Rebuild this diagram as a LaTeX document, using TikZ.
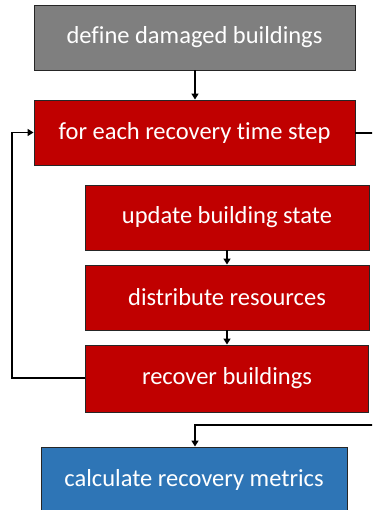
\documentclass[tikz,border=0pt]{standalone}
\usepackage{fontspec}
\setmainfont{Carlito}[Ligatures={NoCommon}]
\usetikzlibrary{arrows.meta}
\definecolor{boxgray}{HTML}{7F7F7F}
\definecolor{boxred}{HTML}{C00000}
\definecolor{boxblue}{HTML}{2E75B6}
\tikzset{
  stepbox/.style={draw=black!85, line width=0.9pt, text=white, inner sep=0pt,
    font=\fontsize{24.5}{29}\selectfont},
  conn/.style={line width=1.6pt, -{Triangle[length=6pt,width=7pt]}},
  plain/.style={line width=1.6pt},
}
\begin{document}
\begin{tikzpicture}[x=1pt,y=-1pt]
\useasboundingbox (0,0) rectangle (372,510);
\clip (0,0) rectangle (372,510);
\node[stepbox, fill=boxgray, minimum width=321pt, minimum height=65pt] (define) at (194.5,37.5) {define damaged buildings};
\node[stepbox, fill=boxred, minimum width=321pt, minimum height=65pt] (foreach) at (194.5,132.5) {for each recovery time step};
\node[stepbox, fill=boxred, minimum width=284pt, minimum height=65pt] (update) at (227,217.5) {update building state};
\node[stepbox, fill=boxred, minimum width=284pt, minimum height=65pt] (distribute) at (227,297.5) {distribute resources};
\node[stepbox, fill=boxred, minimum width=283pt, minimum height=67pt] (recover) at (227,378.5) {recover buildings};
\node[stepbox, fill=boxblue, minimum width=306pt, minimum height=66pt] (calc) at (194,480) {calculate recovery metrics};
\coordinate (outR) at (373,133);
\coordinate (inR) at (373,425);
\coordinate (loopL) at (12,378);
\draw[conn] (define.south -| 195,0) -- (foreach.north -| 195,0);
\draw[plain] (foreach.east |- outR) -- (outR);
\draw[conn] (update.south) -- (distribute.north);
\draw[conn] (distribute.south) -- (recover.north);
\draw[conn] (recover.west |- loopL) -- (loopL) |- (foreach.west);
\draw[conn] (inR) -| (calc.north -| 195,0);
\end{tikzpicture}
\end{document}
